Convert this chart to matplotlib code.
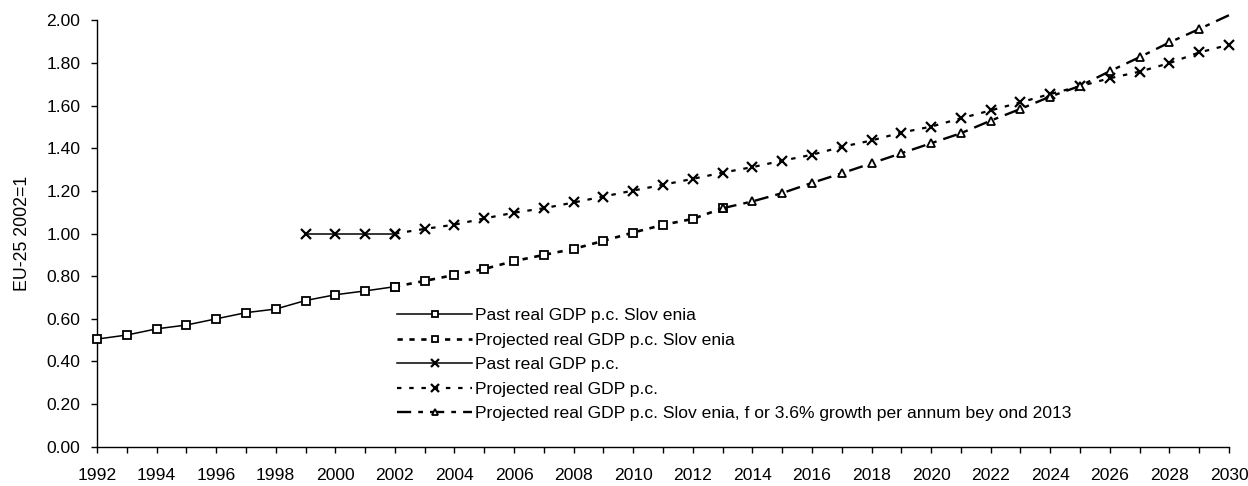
import matplotlib
matplotlib.use("Agg")
import matplotlib.pyplot as plt
import numpy as np

plt.rcParams['font.family'] = ['Liberation Sans', 'DejaVu Sans']

# real GDP per capita, EU-25 in 2002 = 1
past_years = np.arange(1992, 2003)
past_slovenia = [0.505, 0.524, 0.553, 0.571, 0.600, 0.629, 0.646, 0.686, 0.713, 0.731, 0.751]

past_eu_years = np.arange(1999, 2003)
past_eu = [1.00, 1.00, 1.00, 1.00]

proj_slo_years = np.arange(2002, 2014)
proj_slovenia = [0.751, 0.778, 0.806, 0.834, 0.871, 0.900, 0.928, 0.966, 1.005, 1.041, 1.069, 1.119]

proj_eu_years = np.arange(2002, 2031)
proj_eu = [1.00, 1.022, 1.042, 1.071, 1.098, 1.119, 1.146, 1.174, 1.202, 1.229, 1.257, 1.286,
           1.312, 1.342, 1.370, 1.407, 1.437, 1.474, 1.502, 1.541, 1.578, 1.616, 1.655, 1.692,
           1.729, 1.760, 1.800, 1.850, 1.886]

growth_years = np.arange(2013, 2031)
growth_slovenia = [1.119, 1.151, 1.190, 1.238, 1.283, 1.330, 1.377, 1.424, 1.471, 1.530,
                   1.585, 1.643, 1.693, 1.762, 1.828, 1.897, 1.960, 2.025]

labels = [
    "Past real GDP p.c. Slov enia",
    "Projected real GDP p.c. Slov enia",
    "Past real GDP p.c.",
    "Projected real GDP p.c.",
    "Projected real GDP p.c. Slov enia, f or 3.6% growth per annum bey ond 2013",
]

fs = 12.6

fig = plt.figure(figsize=(12.48, 4.86), dpi=100)
ax = fig.add_axes([97 / 1248, 1 - 446.7 / 486, (1229 - 97) / 1248, (446.7 - 20.5) / 486])

common = dict(color="black", markerfacecolor="white", markeredgecolor="black",
              clip_on=False, zorder=3)

ax.plot(past_years, past_slovenia, linestyle="-", lw=1.1, marker="s", ms=6, mew=1.3,
        label=labels[0], **common)
ax.plot(proj_slo_years, proj_slovenia, linestyle=(0, (2, 2.5)), lw=1.9, marker="s", ms=6,
        mew=1.3, label=labels[1], **common)
ax.plot(past_eu_years, past_eu, linestyle="-", lw=1.1, marker="x", ms=7, mew=1.6,
        label=labels[2], **common)
ax.plot(proj_eu_years, proj_eu, linestyle=(0, (2, 3.5)), lw=1.6, marker="x", ms=7, mew=1.6,
        label=labels[3], **common)
# last point is above the axis range, so no marker there
ax.plot(growth_years, growth_slovenia, linestyle=(0, (6, 3, 2, 3)), lw=1.7, marker="^", ms=6,
        mew=1.3, markevery=slice(0, len(growth_years) - 1), label=labels[4], **common)

ax.set_xlim(1992, 2030)
ax.set_ylim(0, 2.0)
ax.set_xticks(np.arange(1992, 2031, 2))
ax.set_xticks(np.arange(1993, 2030, 2), minor=True)
ax.set_yticks(np.arange(0, 2.01, 0.2))
ax.set_yticklabels([f"{v:.2f}" for v in np.arange(0, 2.01, 0.2)])
ax.tick_params(axis="x", which="both", direction="out", length=4, width=1, pad=11, labelsize=fs)
ax.tick_params(axis="y", direction="out", length=4.5, width=1, pad=7.5, labelsize=fs)

for side in ("top", "right"):
    ax.spines[side].set_visible(False)
for side in ("left", "bottom"):
    ax.spines[side].set_linewidth(1.0)

ax.set_ylabel("EU-25 2002=1", fontsize=12.8)
ax.yaxis.set_label_coords(-0.058, 0.5)

ax.legend(loc="upper left", bbox_to_anchor=(397 / 1248, 1 - 308 / 486),
          bbox_transform=fig.transFigure, frameon=False, fontsize=fs,
          handlelength=4.3, handletextpad=0.15, borderpad=0, borderaxespad=0,
          labelspacing=0.53, markerscale=0.8)

fig.savefig("out.png", dpi=100)
